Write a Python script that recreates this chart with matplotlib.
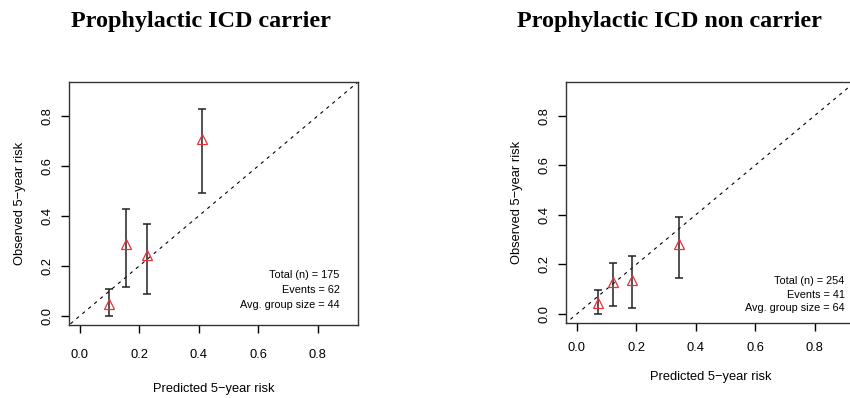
import numpy as np
import matplotlib
matplotlib.use('Agg')
import matplotlib.pyplot as plt

plt.rcParams['font.family'] = ['Liberation Sans', 'DejaVu Sans']

# 左パネル (carrier)
pred_car = [0.097, 0.156, 0.226, 0.411]
obs_car = [0.048, 0.288, 0.244, 0.707]
lo_car = [0.000, 0.115, 0.087, 0.493]
hi_car = [0.107, 0.427, 0.368, 0.829]
info_car = ['Total (n) = 175', 'Events = 62', 'Avg. group size = 44']

# 右パネル (non carrier)
pred_non = [0.071, 0.121, 0.185, 0.345]
obs_non = [0.044, 0.129, 0.137, 0.282]
lo_non = [0.000, 0.034, 0.024, 0.145]
hi_non = [0.098, 0.208, 0.234, 0.391]
info_non = ['Total (n) = 254', 'Events = 41', 'Avg. group size = 64']

titles = ['Prophylactic ICD carrier', 'Prophylactic ICD non carrier']
ticks = [0.0, 0.2, 0.4, 0.6, 0.8]

fig = plt.figure(figsize=(8.5, 3.98), dpi=100)


def calib_panel(ax, pred, obs, lo, hi, info, info_x, info_y, xpad, xlpad):
    lim = (-0.036, 0.936)
    ax.set_xlim(lim)
    ax.set_ylim(lim)
    # 対角線
    ax.plot([-1, 2], [-1, 2], ls=(0, (3, 4)), color='black', lw=0.8)
    pred = np.array(pred)
    obs = np.array(obs)
    err = [obs - np.array(lo), np.array(hi) - obs]
    ax.errorbar(pred, obs, yerr=err, fmt='none', ecolor='#222222',
                elinewidth=1.1, capsize=2.6, capthick=1.1)
    ax.plot(pred, obs, ls='none', marker='^', ms=6.5, mfc='none',
            mec='#e8303a', mew=0.9)
    for k, s in enumerate(info):
        ax.text(info_x, info_y[k], s, ha='right', va='center', fontsize=7.8)
    ax.set_xticks(ticks)
    ax.set_yticks(ticks)
    ax.set_xticklabels([f'{t:.1f}' for t in ticks])
    ax.set_yticklabels([f'{t:.1f}' for t in ticks], rotation=90, va='center')
    ax.tick_params(direction='out', length=6, width=1, labelsize=9.3)
    ax.tick_params(axis='x', pad=xpad)
    ax.tick_params(axis='y', pad=5)
    for sp in ax.spines.values():
        sp.set_color('#333333')
        sp.set_linewidth(1)
    ax.set_xlabel('Predicted 5\u2212year risk', fontsize=9.3, labelpad=xlpad)
    ax.set_ylabel('Observed 5\u2212year risk', fontsize=9.3, labelpad=11)


ax1 = fig.add_axes([69 / 850, 1 - 325 / 398, 289 / 850, 243 / 398])
calib_panel(ax1, pred_car, obs_car, lo_car, hi_car, info_car,
            0.875, [0.164, 0.104, 0.044], 11, 16)

ax2 = fig.add_axes([566 / 850, 1 - 323 / 398, 289 / 850, 241 / 398])
calib_panel(ax2, pred_non, obs_non, lo_non, hi_non, info_non,
            0.901, [0.1315, 0.078, 0.024], 8, 12)

fig.text(201 / 850, 1 - 21 / 398, titles[0], ha='center', va='center',
         fontsize=17.4, fontweight='bold', family='Liberation Serif')
fig.text(669 / 850, 1 - 21 / 398, titles[1], ha='center', va='center',
         fontsize=17.4, fontweight='bold', family='Liberation Serif')

fig.savefig('out.png', dpi=100)
